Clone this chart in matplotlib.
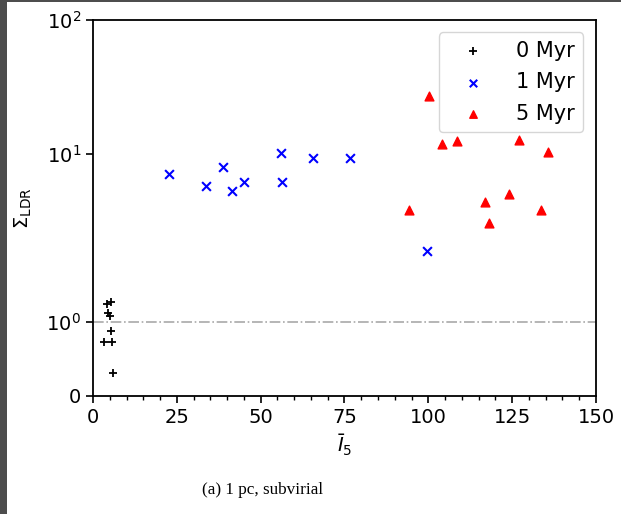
import matplotlib
matplotlib.use("Agg")
import matplotlib.pyplot as plt
from matplotlib.ticker import NullLocator, AutoMinorLocator
from matplotlib.patches import Rectangle

# Data
x0 = [4.2, 5.4, 4.5, 5.1, 5.4, 3.3, 5.7, 6.0]
y0 = [1.24, 1.26, 1.12, 1.07, 0.87, 0.73, 0.72, 0.31]

x1 = [22.8, 33.7, 38.9, 41.5, 45.1, 56.1, 56.4, 65.7, 76.6, 99.7]
y1 = [7.1, 5.7, 8.0, 5.3, 6.2, 10.1, 6.2, 9.3, 9.3, 1.95]

x5 = [100.3, 104.1, 108.6, 127.0, 135.7, 94.2, 116.9, 124.2, 133.6, 118.1]
y5 = [27.0, 11.8, 12.4, 12.6, 10.3, 3.83, 4.37, 5.04, 3.83, 3.04]

labels = ["0 Myr", "1 Myr", "5 Myr"]
yticks = [0, 1, 10, 100]
xticks = [0, 25, 50, 75, 100, 125, 150]

fig = plt.figure(figsize=(6.21, 5.14), dpi=100)
ax = fig.add_axes([0.1498, 0.2296, 0.8099, 0.7315])

ax.set_yscale('symlog', linthresh=2, linscale=1)
ax.scatter(x0, y0, marker='+', color='black', s=40, linewidths=1.3, label=labels[0], zorder=3)
ax.scatter(x1, y1, marker='x', color='blue', s=40, linewidths=1.5, label=labels[1], zorder=3)
ax.scatter(x5, y5, marker='^', color='red', s=40, label=labels[2], zorder=3)
ax.axhline(1, color='darkgray', linestyle='-.', linewidth=1.2, zorder=1)

ax.set_xlim(0, 150)
ax.set_ylim(0, 100)
ax.set_xticks(xticks)
ax.set_yticks(yticks)
ax.yaxis.set_minor_locator(NullLocator())
ax.xaxis.set_minor_locator(AutoMinorLocator(5))
ax.tick_params(axis='both', which='major', labelsize=14, width=1.2, length=5)
ax.tick_params(axis='x', which='minor', width=1.0, length=3)
for sp in ax.spines.values():
    sp.set_linewidth(1.3)

ax.set_xlabel(r'$\bar{I}_5$', fontsize=14)
ax.set_ylabel(r'$\Sigma_{\rm LDR}$', fontsize=14, labelpad=9)

ax.legend(loc='upper right', fontsize=15, scatterpoints=1, handletextpad=0.9,
          handlelength=2.4, labelspacing=0.55, borderaxespad=0.6, markerscale=0.85)

fig.text(0.4235, 0.047, "(a) 1 pc, subvirial", ha='center', va='center',
         fontsize=12.3, family='Liberation Serif')

# screenshot borders
fig.patches.append(Rectangle((0, 0), 7/621, 1, transform=fig.transFigure,
                             facecolor='#4d4d4d', edgecolor='none', zorder=10))
fig.patches.append(Rectangle((0, 1 - 2/514), 1, 2/514, transform=fig.transFigure,
                             facecolor='#4d4d4d', edgecolor='none', zorder=10))

fig.savefig("out.png", dpi=100)
